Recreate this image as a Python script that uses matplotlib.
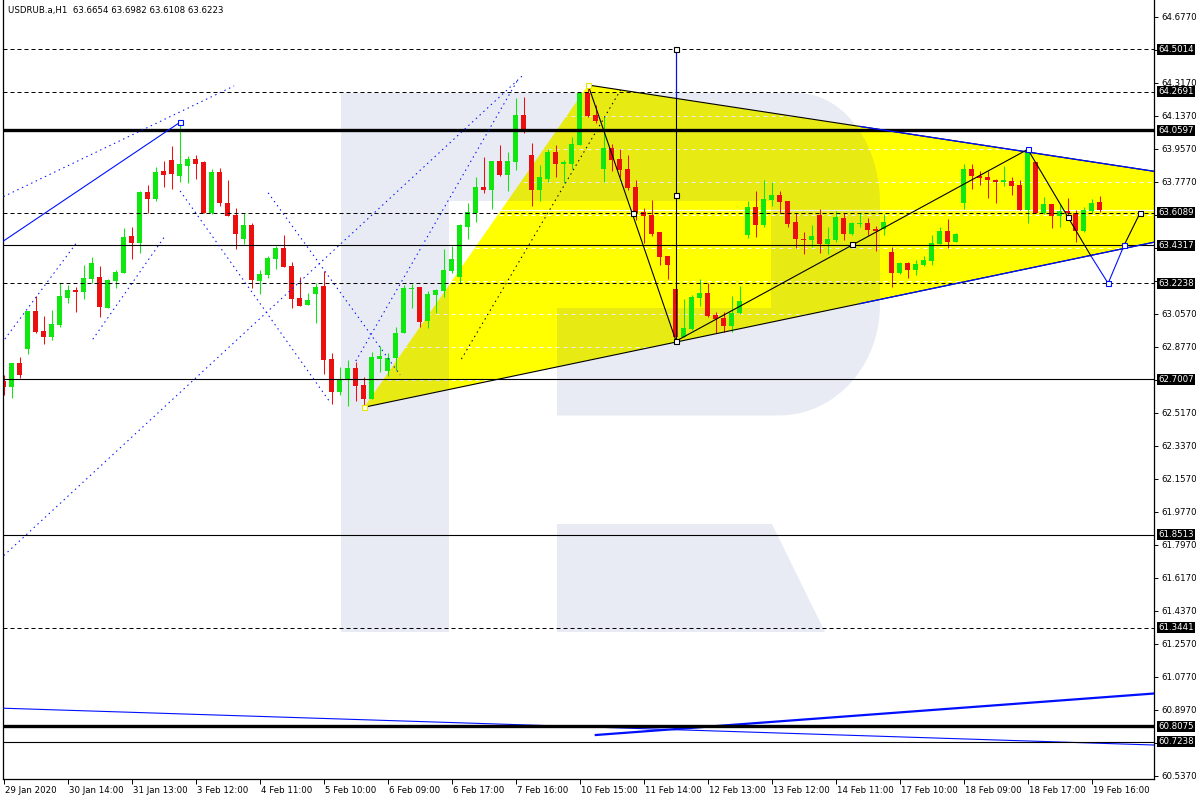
import numpy as np
import matplotlib
matplotlib.use("Agg")
import matplotlib.pyplot as plt
from matplotlib.patches import Polygon
from matplotlib.transforms import ScaledTranslation, blended_transform_factory, Affine2D

plt.rcParams['font.family'] = ['DejaVu Sans']

# ---------------- data ----------------
title = "USDRUB.a,H1  63.6654 63.6982 63.6108 63.6223"

opens = [62.693, 62.660, 62.789, 62.866, 63.073, 62.964, 62.933, 62.997, 63.146, 63.188,
         63.177, 63.249, 63.259, 63.091, 63.239, 63.282, 63.482, 63.446, 63.722, 63.686,
         63.837, 63.897, 63.811, 63.866, 63.902, 63.886, 63.606, 63.831, 63.662, 63.597,
         63.468, 63.542, 63.239, 63.271, 63.359, 63.417, 63.319, 63.144, 63.106, 63.168,
         63.209, 62.811, 62.633, 62.700, 62.760, 62.669, 62.593, 62.809, 62.748, 62.819,
         62.951, 63.193, 63.202, 63.020, 63.160, 63.184, 63.290, 63.257, 63.533, 63.606,
         63.748, 63.733, 63.891, 63.815, 63.888, 64.142, 63.924, 63.733, 63.791, 63.942,
         63.875, 63.875, 63.979, 64.264, 64.142, 63.848, 63.961, 63.902, 63.848, 63.750,
         63.611, 63.597, 63.504, 63.373, 63.193, 62.929, 62.975, 63.146, 63.169, 63.051,
         63.033, 62.993, 63.060, 63.488, 63.639, 63.542, 63.679, 63.706, 63.673, 63.560,
         63.466, 63.460, 63.597, 63.439, 63.460, 63.579, 63.493, 63.548, 63.551, 63.520,
         63.520, 63.393, 63.279, 63.333, 63.297, 63.324, 63.348, 63.439, 63.510, 63.451,
         63.664, 63.846, 63.811, 63.802, 63.788, 63.779, 63.782, 63.760, 63.624, 63.888,
         63.606, 63.657, 63.593, 63.619, 63.606, 63.511, 63.620, 63.6654]
highs = [62.724, 62.789, 62.822, 63.073, 63.157, 63.048, 63.079, 63.224, 63.215, 63.206,
         63.322, 63.370, 63.320, 63.248, 63.297, 63.528, 63.531, 63.730, 63.762, 63.859,
         63.891, 63.973, 64.099, 63.919, 63.924, 63.891, 63.846, 63.853, 63.788, 63.633,
         63.606, 63.553, 63.297, 63.373, 63.428, 63.488, 63.340, 63.259, 63.171, 63.226,
         63.291, 62.844, 62.768, 62.808, 62.797, 62.711, 62.848, 62.882, 62.842, 62.986,
         63.215, 63.220, 63.202, 63.184, 63.195, 63.411, 63.428, 63.548, 63.660, 63.802,
         63.911, 63.891, 63.979, 63.939, 64.237, 64.242, 63.988, 63.870, 63.955, 63.979,
         63.897, 64.021, 64.270, 64.306, 64.197, 64.130, 63.984, 63.955, 63.924, 63.788,
         63.633, 63.679, 63.504, 63.373, 63.229, 63.139, 63.159, 63.248, 63.224, 63.066,
         63.066, 63.157, 63.209, 63.675, 63.728, 63.788, 63.775, 63.730, 63.673, 63.606,
         63.506, 63.542, 63.628, 63.530, 63.619, 63.606, 63.560, 63.606, 63.579, 63.537,
         63.602, 63.424, 63.342, 63.342, 63.351, 63.373, 63.488, 63.533, 63.573, 63.500,
         63.873, 63.873, 63.837, 63.837, 63.791, 63.864, 63.802, 63.788, 63.966, 63.888,
         63.697, 63.657, 63.651, 63.688, 63.624, 63.642, 63.682, 63.6982]
lows = [62.615, 62.600, 62.709, 62.840, 62.953, 62.895, 62.915, 62.986, 63.117, 63.069,
        63.140, 63.224, 63.042, 63.091, 63.200, 63.282, 63.359, 63.391, 63.606, 63.675,
        63.751, 63.740, 63.779, 63.773, 63.795, 63.606, 63.600, 63.648, 63.593, 63.413,
        63.440, 63.197, 63.168, 63.255, 63.304, 63.315, 63.091, 63.102, 63.106, 63.009,
        62.731, 62.568, 62.615, 62.555, 62.582, 62.551, 62.593, 62.742, 62.720, 62.751,
        62.951, 63.088, 62.988, 62.979, 63.064, 63.151, 63.279, 63.228, 63.466, 63.560,
        63.719, 63.630, 63.811, 63.730, 63.842, 64.042, 63.648, 63.673, 63.779, 63.802,
        63.773, 63.848, 63.979, 64.130, 64.097, 63.779, 63.837, 63.806, 63.733, 63.570,
        63.446, 63.484, 63.324, 63.249, 62.906, 62.929, 62.969, 63.102, 63.039, 62.955,
        62.960, 62.960, 63.057, 63.470, 63.475, 63.530, 63.648, 63.606, 63.530, 63.415,
        63.384, 63.420, 63.388, 63.384, 63.451, 63.460, 63.488, 63.530, 63.488, 63.402,
        63.488, 63.206, 63.275, 63.251, 63.270, 63.320, 63.324, 63.439, 63.419, 63.448,
        63.630, 63.737, 63.760, 63.691, 63.664, 63.757, 63.706, 63.624, 63.555, 63.606,
        63.602, 63.528, 63.533, 63.584, 63.451, 63.506, 63.606, 63.6108]
closes = [62.660, 62.789, 62.724, 63.073, 62.959, 62.933, 63.002, 63.155, 63.188, 63.177,
          63.255, 63.335, 63.097, 63.242, 63.286, 63.477, 63.446, 63.724, 63.686, 63.831,
          63.817, 63.822, 63.877, 63.902, 63.877, 63.606, 63.831, 63.664, 63.593, 63.495,
          63.542, 63.244, 63.275, 63.362, 63.417, 63.315, 63.140, 63.102, 63.133, 63.204,
          62.804, 62.633, 62.700, 62.762, 62.666, 62.593, 62.822, 62.828, 62.817, 62.951,
          63.197, 63.200, 63.015, 63.166, 63.188, 63.297, 63.355, 63.542, 63.615, 63.748,
          63.733, 63.891, 63.815, 63.891, 64.142, 64.061, 63.733, 63.806, 63.942, 63.875,
          63.886, 63.984, 64.264, 64.137, 64.110, 63.961, 63.897, 63.842, 63.742, 63.610,
          63.593, 63.495, 63.370, 63.324, 62.929, 62.980, 63.151, 63.169, 63.048, 63.031,
          62.993, 63.060, 63.128, 63.639, 63.542, 63.682, 63.706, 63.670, 63.548, 63.466,
          63.460, 63.482, 63.439, 63.464, 63.584, 63.493, 63.551, 63.555, 63.515, 63.511,
          63.560, 63.279, 63.333, 63.297, 63.328, 63.351, 63.442, 63.510, 63.451, 63.493,
          63.846, 63.811, 63.800, 63.788, 63.779, 63.784, 63.757, 63.624, 63.946, 63.606,
          63.657, 63.593, 63.619, 63.606, 63.511, 63.624, 63.660, 63.6223]

x_tick_labels = ["29 Jan 2020", "30 Jan 14:00", "31 Jan 13:00", "3 Feb 12:00", "4 Feb 11:00",
                 "5 Feb 10:00", "6 Feb 09:00", "6 Feb 17:00", "7 Feb 16:00", "10 Feb 15:00",
                 "11 Feb 14:00", "12 Feb 13:00", "13 Feb 12:00", "14 Feb 11:00", "17 Feb 10:00",
                 "18 Feb 09:00", "18 Feb 17:00", "19 Feb 16:00"]
x_tick_step = 8

y_tick_values = [64.677, 64.497, 64.317, 64.137, 63.957, 63.777, 63.597, 63.417, 63.237, 63.057,
                 62.877, 62.697, 62.517, 62.337, 62.157, 61.977, 61.797, 61.617, 61.437, 61.257,
                 61.077, 60.897, 60.717, 60.537]

level_prices = [64.5014, 64.2691, 64.0597, 63.6089, 63.4317, 63.2238, 62.7007, 61.8513, 61.3441, 60.8075, 60.7238]
level_kinds = ["dash", "dash", "thick", "dash", "solid", "dash", "solid", "solid", "dash", "thick", "solid"]
bid_price = 63.6223

# yellow triangle (bar index, price)
triangle_x = [45.04, 73.04, 168.3]
triangle_y = [62.548, 64.306, 63.672]

# blue dotted channel lines: (x0, y0, x1, y1)
blue_dotted = [(-0.04, 63.697, 28.79, 64.301),
               (0.125, 62.920, 9.04, 63.442),
               (11.125, 62.919, 20.04, 63.475),
               (22.04, 63.728, 40.875, 62.570),
               (33.04, 63.718, 49.54, 62.724),
               (0.0, 61.739, 64.84, 64.357),
               (44.0, 62.800, 64.375, 64.344)]
blue_solid = (-0.04, 63.455, 22.04, 64.103)
black_dotted = (57.2, 62.811, 77.09, 64.278)

# wave path
wave_black_x = [73.04, 84.03, 128.0, 135.9]
wave_black_y = [64.306, 62.909, 63.955, 63.373]
wave_blue_x = [135.9, 138.04, 140.04]
wave_blue_y = [63.373, 63.224, 63.432]
wave_end_x = [140.04, 142.04]
wave_end_y = [63.432, 63.609]
vline_x = 84.03
vline_top = 64.5014
vline_bottom = 62.909

# bottom blue lines
bottom_line1 = (0.0, 60.906, 144.0, 60.705)
bottom_line2 = (74.0, 60.760, 144.0, 60.987)

sq_black_x = [84.03, 84.03, 84.03, 106.0, 78.6, 133.04, 142.04]
sq_black_y = [62.909, 63.706, 64.5014, 63.439, 63.606, 63.588, 63.609]
sq_blue_x = [22.04, 128.0, 138.04, 140.04]
sq_blue_y = [64.103, 63.957, 63.224, 63.432]
sq_yellow_x = [45.04, 73.04]
sq_yellow_y = [62.548, 64.306]

# ---------------- figure ----------------
W, H = 1200, 800
fig = plt.figure(figsize=(12, 8), dpi=100)
ax = fig.add_axes([3 / W, 21 / H, 1151 / W, 779 / H])
ax.set_xlim(-0.1, 143.775)
ax.set_ylim(60.5199, 64.7697)

# pixel transform for the decorative background logo
px = Affine2D().scale(1 / W, -1 / H).translate(0, 1) + fig.transFigure

# yellow triangle
tri = Polygon(np.column_stack([triangle_x, triangle_y]), closed=True,
              facecolor="#ffff00", edgecolor="none", zorder=1)
ax.add_patch(tri)

# white grid (visible only over yellow)
for v in y_tick_values:
    ax.axhline(v, color="white", lw=0.72, ls=(0, (4, 4)), zorder=1.1)
ax.axhline(bid_price, color="white", lw=0.9, zorder=1.1)

# background logo "R"
t1 = np.linspace(np.pi / 2, 0, 30)
t2 = np.linspace(0, -np.pi / 2, 30)
outer = [(341, 93), (797, 93)]
outer += [(797 + 83 * np.cos(t), 203 - 110 * np.sin(t)) for t in t1]
outer += [(880, 305)]
outer += [(779 + 101 * np.cos(t), 305 - 110.5 * np.sin(t)) for t in t2]
outer += [(557, 415.5), (557, 308), (771, 308), (771, 201), (449, 201), (449, 632), (341, 632)]
logo_col = (66 / 255, 98 / 255, 164 / 255)
ax.add_patch(Polygon(outer, closed=True, transform=px, facecolor=logo_col, alpha=0.12,
                     edgecolor="none", zorder=1.2))
ax.add_patch(Polygon([(557, 524), (772, 524), (825, 632), (557, 632)], closed=True, transform=px,
                     facecolor=logo_col, alpha=0.12, edgecolor="none", zorder=1.2))

# candles
bars = np.arange(len(opens))
o = np.array(opens); c = np.array(closes); h = np.array(highs); l = np.array(lows)
up = c >= o
cols = np.where(up, "#10e610", "#ea1010")
ax.vlines(bars, l, h, colors=cols, lw=0.75, zorder=2)
body_h = np.maximum(np.abs(c - o), 0.006)
ax.bar(bars, body_h, bottom=np.minimum(o, c), width=0.62, color=cols, linewidth=0, zorder=2.1)

# horizontal levels
for p, k in zip(level_prices, level_kinds):
    if k == "dash":
        ax.axhline(p, color="black", lw=0.72, ls=(0, (4, 3)), zorder=3)
    elif k == "thick":
        ax.axhline(p, color="black", lw=2.4, zorder=3)
    else:
        ax.axhline(p, color="black", lw=0.8, zorder=3)

# triangle edges
tx = list(triangle_x); ty = list(triangle_y)
ax.plot([tx[0], tx[2]], [ty[0], ty[2]], color="black", lw=0.8, zorder=3.2)
ax.plot([tx[1], tx[2]], [ty[1], ty[2]], color="black", lw=0.8, zorder=3.2)
def on_line(x0, y0, x1, y1, x):
    return y0 + (y1 - y0) * (x - x0) / (x1 - x0)
xs = 107.0
ax.plot([xs, tx[2]], [on_line(tx[0], ty[0], tx[2], ty[2], xs), ty[2]], color="#0010ff", lw=0.9, zorder=3.3)
ax.plot([xs, tx[2]], [on_line(tx[1], ty[1], tx[2], ty[2], xs), ty[2]], color="#0010ff", lw=0.9, zorder=3.3)

# blue dotted / solid lines
for (x0, y0, x1, y1) in blue_dotted:
    ax.plot([x0, x1], [y0, y1], color="#0010ff", lw=0.75, ls=(0, (1.4, 3.5)), zorder=3.4)
ax.plot(blue_solid[0::2], blue_solid[1::2], color="#0010ff", lw=0.8, zorder=3.4)
ax.plot(black_dotted[0::2], black_dotted[1::2], color="black", lw=0.75, ls=(0, (1.4, 3.5)), zorder=3.4)

# wave path
ax.plot(wave_black_x, wave_black_y, color="black", lw=0.8, zorder=3.5)
ax.plot(wave_blue_x, wave_blue_y, color="#0010ff", lw=0.8, zorder=3.5)
ax.plot(wave_end_x, wave_end_y, color="black", lw=0.8, zorder=3.5)
ax.plot([vline_x, vline_x], [vline_bottom, vline_top], color="black", lw=0.8, zorder=3.5)
ax.plot([vline_x, vline_x], [64.24, vline_top], color="#0010ff", lw=0.8, zorder=3.55)

# bottom blue lines
ax.plot(bottom_line1[0::2], bottom_line1[1::2], color="#0010ff", lw=0.8, zorder=2.9)
ax.plot(bottom_line2[0::2], bottom_line2[1::2], color="#0010ff", lw=1.6, zorder=2.9)

# anchor squares
ax.plot(sq_black_x, sq_black_y, "s", ms=3.6, mfc="white", mec="black", mew=0.8, zorder=4)
ax.plot(sq_blue_x, sq_blue_y, "s", ms=3.6, mfc="white", mec="#0010ff", mew=0.8, zorder=4)
ax.plot(sq_yellow_x, sq_yellow_y, "s", ms=3.6, mfc="white", mec="#e6e600", mew=0.8, zorder=4)

# axes styling
fs = 6.2
ax.spines["top"].set_visible(False)
for s in ("left", "right", "bottom"):
    ax.spines[s].set_linewidth(0.9)
ax.yaxis.tick_right()
ax.set_yticks(y_tick_values)
# tick labels fully covered by a price-level box are left blank
covered = [any(abs(v - p) < 0.03 for p in level_prices) for v in y_tick_values]
ax.set_yticklabels(["" if cv else f"{v:.4f}" for v, cv in zip(y_tick_values, covered)])
ax.tick_params(axis="y", which="both", right=True, left=False, labelright=True, labelleft=False,
               length=3, width=0.7, pad=2, labelsize=fs, direction="out")
xt = [i * x_tick_step for i in range(len(x_tick_labels))]
ax.set_xticks(xt)
ax.set_xticklabels(x_tick_labels)
ax.tick_params(axis="x", length=3.5, width=0.7, pad=1.5, labelsize=fs, direction="out")
off = ScaledTranslation(1.5 / 100, 0, fig.dpi_scale_trans)
for lab in ax.get_xticklabels():
    lab.set_horizontalalignment("left")
    lab.set_transform(lab.get_transform() + off)

# level labels on price axis
bt = blended_transform_factory(ax.transAxes, ax.transData)
for p in level_prices:
    ax.text(1.0035, p, f"{p:.4f}", transform=bt, ha="left", va="center", fontsize=fs,
            color="white", clip_on=False, zorder=20,
            bbox=dict(boxstyle="square,pad=0.12", facecolor="black", edgecolor="none"))

fig.text(8 / W, 1 - 10 / H, title, fontsize=fs, ha="left", va="center", color="black")

fig.savefig("out.png", dpi=100, facecolor="white")
